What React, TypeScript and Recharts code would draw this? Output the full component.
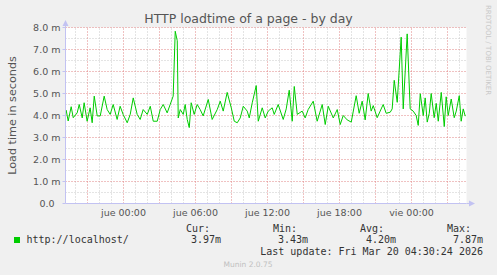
import { CartesianGrid, Line, LineChart, ReferenceLine, XAxis, YAxis } from "recharts";

// hours relative to jue 00:00
const HOURS = [
  -4.78, -4.61, -4.36, -4.19, -3.86, -3.69, -3.44, -3.28, -3.03, -2.78, -2.61, -2.44, -2.19, -1.94,
  -1.61, -1.36, -1.11, -0.86, -0.53, -0.28, -0.03, 0.31, 0.56, 0.81, 1.14, 1.39, 1.64, 1.98, 2.23,
  2.48, 2.81, 3.06, 3.31, 3.64, 3.89, 4.14, 4.31, 4.48, 4.56, 4.73, 4.98, 5.14, 5.31, 5.48, 5.64,
  5.89, 6.14, 6.39, 6.64, 7.06, 7.39, 7.81, 8.06, 8.31, 8.64, 8.98, 9.23, 9.48, 9.73, 9.98, 10.31,
  10.48, 10.73, 11.06, 11.23, 11.56, 11.81, 12.06, 12.39, 12.56, 12.89, 13.31, 13.56, 13.81, 14.06,
  14.23, 14.48, 14.89, 15.14, 15.39, 15.81, 16.14, 16.56, 16.81, 17.06, 17.48, 17.81, 18.06, 18.31,
  18.64, 18.98, 19.39, 19.64, 19.89, 20.14, 20.39, 20.64, 20.81, 21.14, 21.39, 21.64, 21.89, 22.23,
  22.39, 22.56, 22.81, 23.14, 23.31, 23.64, 23.89, 24.14, 24.39, 24.56, 24.73, 24.98, 25.14, 25.31,
  25.48, 25.64, 25.89, 26.06, 26.23, 26.48, 26.73, 26.89, 27.06, 27.31, 27.56, 27.73, 27.98, 28.14,
  28.31, 28.48,
];

// load time, in milliseconds ("m")
const LOAD_MS = [
  4.25, 3.75, 4.4, 3.9, 4.12, 4.5, 3.89, 4.58, 3.74, 4.35, 3.67, 4.88, 3.98, 3.98,
  4.88, 4.27, 4.05, 4.5, 3.82, 4.42, 4.05, 3.67, 4.05, 4.8, 4.05, 3.82, 4.27, 4.05, 4.42,
  3.74, 3.74, 4.27, 4.5, 4.12, 4.5, 4.88, 7.83, 7.4, 3.89, 4.27, 4.05, 4.5, 3.82, 3.45, 4.58,
  4.05, 4.5, 4.27, 3.98, 4.73, 3.82, 4.27, 4.65, 4.2, 5.05, 4.35, 3.74, 3.67, 3.89, 4.42, 4.2,
  3.89, 4.58, 5.36, 3.74, 4.35, 3.89, 4.2, 4.35, 4.05, 4.5, 3.82, 4.3, 5.15, 3.74,
  5.32, 4.05, 4.2, 3.89, 4.27, 4.65, 3.74, 4.5, 3.59, 4.42, 3.89, 4.27, 3.59, 4.0,
  3.8, 3.7, 4.9, 4.1, 4.65, 3.8, 5.0, 4.2, 4.45, 3.9, 4.2, 4.5, 4.1, 4.15,
  4.3, 5.6, 4.6, 7.56, 4.3, 7.71, 4.3, 4.2, 4.0, 3.55, 4.99, 4.0, 4.8, 3.7,
  4.1, 5.0, 3.9, 4.55, 3.74, 5.05, 3.5, 4.85, 4.0, 4.75, 3.9, 4.2, 4.9, 3.74,
  4.3, 3.97,
];

const X_TICKS = [0, 6, 12, 18, 24];
const X_LABELS = ["jue 00:00", "jue 06:00", "jue 12:00", "jue 18:00", "vie 00:00"];
const Y_TICKS = [0, 1, 2, 3, 4, 5, 6, 7, 8];
const MAJOR_X = [-3, 0, 3, 6, 9, 12, 15, 18, 21, 24, 27];
const MINOR_X = [-4, -2, -1, 1, 2, 4, 5, 7, 8, 10, 11, 13, 14, 16, 17, 19, 20, 22, 23, 25, 26, 28];
const MAJOR_Y = [1, 2, 3, 4, 5, 6, 7, 8];
const MINOR_Y = [0.5, 1.5, 2.5, 3.5, 4.5, 5.5, 6.5, 7.5];

const SERIES_NAME = "http://localhost/";
const STAT_LABELS = ["Cur:", "Min:", "Avg:", "Max:"];
const STAT_VALUES = ["3.97m", "3.43m", "4.20m", "7.87m"];
const LAST_UPDATE = "Last update: Fri Mar 20 04:30:24 2026";

const data = HOURS.map((h, i) => ({ h, v: LOAD_MS[i] }));

const SANS = "DejaVu Sans";
const MONO = "DejaVu Sans Mono";
const AXIS = "#c2c2f2";
const MAJOR = "#e08484";
const MINOR = "#c8c8c8";
const GREEN = "#00cc00";

const STAT_X = [186, 273, 360, 447];
const STAT_END = [221, 308, 396, 483];

export default function App() {
  return (
    <div style={{ position: "relative", width: 497, height: 275, background: "#f0f0f0" }}>
      <style>{`body{margin:0}`}</style>
      <LineChart
        width={497}
        height={275}
        data={data}
        margin={{ top: 27.5, right: 30.5, bottom: 51.5, left: 5.5 }}
      >
        <CartesianGrid fill="#ffffff" stroke="none" horizontal={false} vertical={false} />
        {MINOR_Y.map((y) => (
          <ReferenceLine key={"my" + y} y={y} stroke={MINOR} strokeDasharray="1 2" />
        ))}
        {MINOR_X.map((x) => (
          <ReferenceLine key={"mx" + x} x={x} stroke={MINOR} strokeDasharray="1 2" />
        ))}
        {MAJOR_Y.map((y) => (
          <ReferenceLine key={"My" + y} y={y} stroke={MAJOR} strokeDasharray="1 2" />
        ))}
        {MAJOR_X.map((x) => (
          <ReferenceLine key={"Mx" + x} x={x} stroke={MAJOR} strokeDasharray="1 2" />
        ))}
        <XAxis
          dataKey="h"
          type="number"
          domain={[-4.8333, 28.5833]}
          allowDataOverflow
          ticks={X_TICKS}
          interval={0}
          height={20}
          axisLine={{ stroke: AXIS }}
          tickLine={false}
          tick={(p: any) => (
            <text x={p.x} y={216} textAnchor="middle" fontFamily={SANS} fontSize={9.5} fill="#555">
              {X_LABELS[X_TICKS.indexOf(p.payload.value)]}
            </text>
          )}
        />
        <YAxis
          type="number"
          domain={[0, 8]}
          ticks={Y_TICKS}
          interval={0}
          width={60}
          axisLine={{ stroke: AXIS }}
          tickLine={{ stroke: AXIS }}
          tickSize={3}
          tick={(p: any) => (
            <text
              x={p.payload.value === 0 ? 54.5 : 60.5}
              y={p.y + 3.4}
              textAnchor="end"
              fontFamily={SANS}
              fontSize={9.5}
              fill="#555"
            >
              {p.payload.value === 0 ? "0.0" : p.payload.value.toFixed(1) + " m"}
            </text>
          )}
        />
        <Line
          type="linear"
          dataKey="v"
          stroke={GREEN}
          strokeWidth={1}
          dot={false}
          isAnimationActive={false}
        />
      </LineChart>

      <svg
        width={497}
        height={275}
        style={{ position: "absolute", left: 0, top: 0, pointerEvents: "none" }}
      >
        <text x={248.5} y={23} textAnchor="middle" fontFamily={SANS} fontSize={12.5} fill="#555">
          HTTP loadtime of a page - by day
        </text>
        <text
          transform="translate(15.5,115.5) rotate(-90)"
          textAnchor="middle"
          fontFamily={SANS}
          fontSize={11.2}
          fill="#555"
        >
          Load time in seconds
        </text>
        <text
          transform="translate(485.5,5) rotate(90)"
          fontFamily={SANS}
          fontSize={7}
          fill="#c8c8c8"
        >
          RRDTOOL / TOBI OETIKER
        </text>

        {/* axis arrows */}
        <line x1={65.5} y1={27.5} x2={65.5} y2={23} stroke={AXIS} />
        <path d="M62.5,26 L65.5,20 L68.5,26 Z" fill={AXIS} />
        <line x1={466.5} y1={203.5} x2={470} y2={203.5} stroke={AXIS} />
        <path d="M469,200.5 L475,203.5 L469,206.5 Z" fill={AXIS} />

        {/* legend */}
        <rect x={14} y={237} width={6} height={6} fill={GREEN} />
        <text x={26.5} y={243} fontFamily={MONO} fontSize={10} fill="#333">
          {SERIES_NAME}
        </text>
        {STAT_LABELS.map((s, i) => (
          <text key={s} x={STAT_X[i]} y={232} fontFamily={MONO} fontSize={10} fill="#333">
            {s}
          </text>
        ))}
        {STAT_VALUES.map((s, i) => (
          <text key={s} x={STAT_END[i]} y={243} textAnchor="end" fontFamily={MONO} fontSize={10} fill="#333">
            {s}
          </text>
        ))}
        <text x={483} y={255} textAnchor="end" fontFamily={MONO} fontSize={10} fill="#333">
          {LAST_UPDATE}
        </text>
        <text x={248} y={266.5} textAnchor="middle" fontFamily={SANS} fontSize={7.5} fill="#c0c0c0">
          Munin 2.0.75
        </text>
      </svg>
    </div>
  );
}
